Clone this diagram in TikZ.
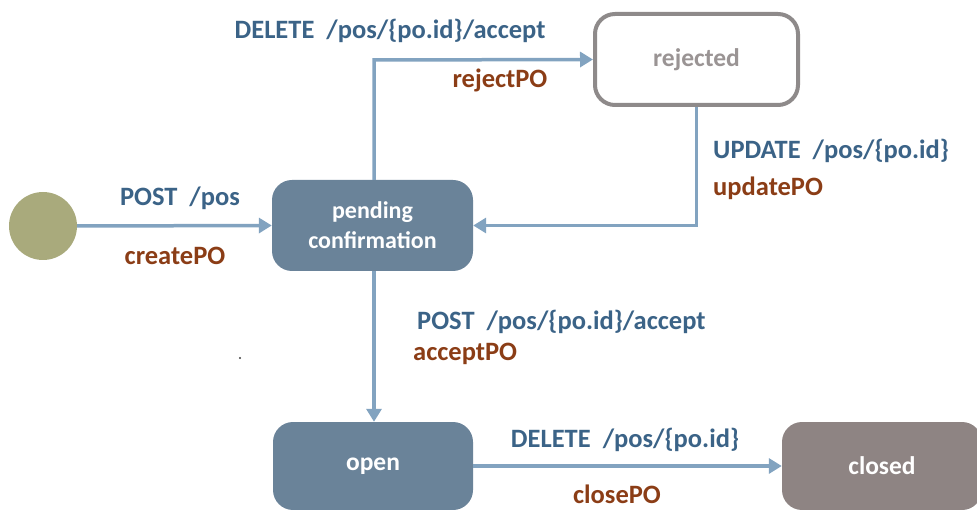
\documentclass[tikz,border=0pt]{standalone}
\usepackage{fontspec}
\setmainfont{Carlito}
\usetikzlibrary{arrows.meta}
\definecolor{boxblue}{HTML}{6A8399}
\definecolor{boxgray}{HTML}{8E8483}
\definecolor{rejgray}{HTML}{8E8A8A}
\definecolor{rejtext}{HTML}{9A9494}
\definecolor{arrowblue}{HTML}{82A3C0}
\definecolor{labblue}{HTML}{3B6387}
\definecolor{labbrown}{HTML}{8B3D16}
\definecolor{startgreen}{HTML}{A9AA7C}
\tikzset{
  state/.style={rounded corners=20pt, minimum width=201pt, text=white, font=\fontsize{25.5}{28}\selectfont\bfseries, align=center, inner sep=0pt},
  conn/.style={draw=arrowblue, line width=3.5pt, -{Triangle[width=15pt,length=13pt]}},
  verb/.style={text=labblue, font=\fontsize{26.5}{30}\selectfont\bfseries, inner sep=0pt},
  op/.style={text=labbrown, font=\fontsize{26.5}{30}\selectfont\bfseries, inner sep=0pt},
}
\begin{document}
\begin{tikzpicture}[x=1pt,y=-1pt]
\useasboundingbox (0,0) rectangle (977,510);
% states
\node[circle, fill=startgreen, minimum size=68pt, inner sep=0pt] (start) at (43,226) {};
\node[state, fill=boxblue, minimum height=91pt, font=\fontsize{24}{30}\selectfont\bfseries] (pending) at (372.5,225.5) {pending\\confirmation};
\node[state, fill=white, draw=rejgray, line width=4pt, text=rejtext, minimum width=203pt, minimum height=91pt] (rejected) at (696.5,59.5) {rejected};
\node[state, fill=boxblue, minimum width=200pt, minimum height=88pt] (open) at (373,466) {open};
\node[state, fill=boxgray, minimum width=200pt, minimum height=88pt] (closed) at (882,466) {closed};
\fill[black!75] (240,358) circle (1.2pt);
% connectors
\draw[conn] (start.east) -- (pending.west);
\draw[conn] (pending.north -| 374,0) -- (374,60) -- (rejected.west);
\draw[conn] (rejected.south) -- (rejected.south |- pending.east) -- (pending.east);
\draw[conn] (pending.south -| 374,0) -- (open.north -| 374,0);
\draw[conn] (open.east) -- (closed.west);
% labels
\node[verb] (l1) at (180,198) {POST\ \ /pos};
\node[op] (l2) at (175,256) {createPO};
\node[verb] (l3) at (390,31) {DELETE\ \ /pos/\{po.id\}/accept};
\node[op] (l4) at (500,80) {rejectPO};
\node[verb, anchor=west] (l5) at (713,151) {UPDATE\ \ /pos/\{po.id\}};
\node[op, anchor=west] (l6) at (713,188) {updatePO};
\node[verb, anchor=west] (l7) at (417,322) {POST\ \ /pos/\{po.id\}/accept};
\node[op, anchor=west] (l8) at (413,354) {acceptPO};
\node[verb] (l9) at (625,440) {DELETE\ \ /pos/\{po.id\}};
\node[op] (l10) at (617,494) {closePO};
\end{tikzpicture}
\end{document}
